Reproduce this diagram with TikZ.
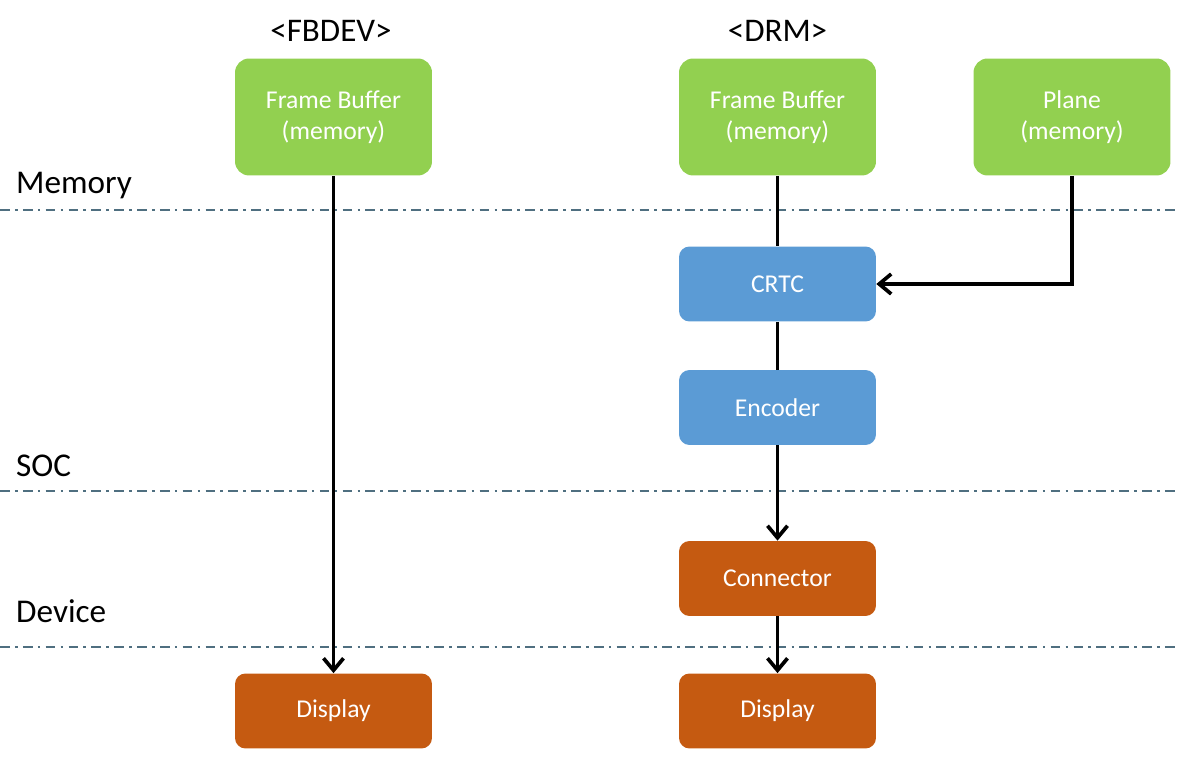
\documentclass[tikz,border=0pt]{standalone}
\usepackage{fontspec}
\setmainfont{Carlito}
\usepackage{tikz}
\usetikzlibrary{arrows.meta,positioning}
\definecolor{FBGreen}{HTML}{92D050}
\definecolor{HWBlue}{HTML}{5B9BD5}
\definecolor{DevOrange}{HTML}{C55A11}
\definecolor{LayerLine}{HTML}{4F6F80}

\begin{document}
\begin{tikzpicture}[
    x=0.02cm,y=-0.02cm,
    box/.style={rounded corners=6pt, minimum width=3.94cm, text=white,
      align=center, font=\fontsize{14.6}{17.5}\selectfont, inner sep=0pt},
    membox/.style={box, fill=FBGreen, minimum height=2.34cm, rounded corners=8pt},
    socbox/.style={box, fill=HWBlue, minimum height=1.5cm},
    devbox/.style={box, fill=DevOrange, minimum height=1.5cm},
    layer/.style={draw=LayerLine, line width=1.3pt,
      dash pattern=on 5.5pt off 3pt on 1.5pt off 3pt},
    layertext/.style={anchor=west, font=\fontsize{18.9}{22}\selectfont},
    head/.style={font=\fontsize{18.8}{22}\selectfont},
    link/.style={line width=2.1pt},
    flow/.style={link, -{Straight Barb[length=2.4mm,width=4mm,line width=2.1pt]}}
  ]
    \useasboundingbox (0,0) rectangle (1178,759);

    % layer boundaries
    \draw[layer] (0,210) -- (1178,210);
    \draw[layer] (0,491) -- (1178,491);
    \draw[layer] (0,647) -- (1178,647);
    \node[layertext] (lmem) at (10,186) {Memory};
    \node[layertext] (lsoc) at (10,466) {SOC};
    \node[layertext] (ldev) at (10,611) {Device};

    % FBDEV
    \node[head] (fbdev) at (331,31) {<FBDEV>};
    \node[membox] (fb1) at (333.5,117) {Frame Buffer\\(memory)};
    \node[devbox] (disp1) at (333.5,711) {Display};

    % DRM
    \node[head] (drm) at (777.5,31) {<DRM>};
    \node[membox] (fb2) at (777.5,117) {Frame Buffer\\(memory)};
    \node[membox] (plane) at (1072,117) {Plane\\(memory)};
    \node[socbox] (crtc) at (777.5,284) {CRTC};
    \node[socbox] (enc) at (777.5,407.5) {Encoder};
    \node[devbox] (conn) at (777.5,578.5) {Connector};
    \node[devbox] (disp2) at (777.5,711) {Display};

    \draw[flow] (fb1) -- (disp1);
    \draw[link] (fb2) -- (crtc);
    \draw[link] (crtc) -- (enc);
    \draw[flow] (enc) -- (conn);
    \draw[flow] (conn) -- (disp2);
    \draw[flow] (plane.south) |- (crtc.east);
\end{tikzpicture}
\end{document}
